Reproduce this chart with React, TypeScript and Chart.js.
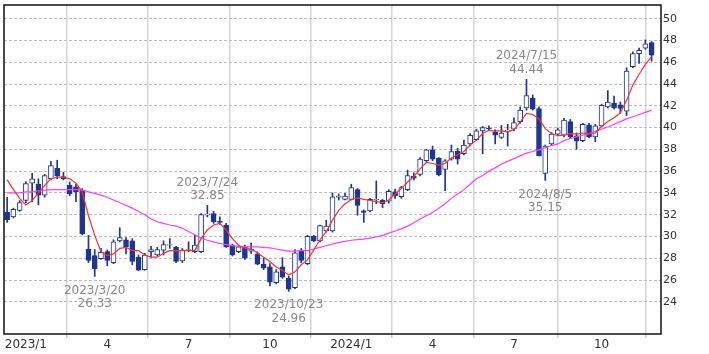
import React, { useEffect, useRef } from 'react';
import { Chart, registerables } from 'chart.js';

Chart.register(...registerables);

// Weekly candles, index 0 = week of 2022/12/12
const OPEN = [
  32.25, 31.8, 32.4, 33.3, 34.9, 34.8, 33.8, 35.3, 36.25, 35.5,
  34.7, 34.55, 34.25, 28.85, 28.25, 27.95, 28.6, 27.6, 29.6, 29.7,
  29.6, 28.1, 26.95, 28.6, 28.3, 28.75, 29.2, 29.0, 27.75, 28.7,
  28.6, 28.6, 31.95, 32.1, 31.4, 31.05, 29.2, 28.6, 29.05, 28.65,
  28.4, 27.45, 27.2, 25.75, 27.2, 26.15, 25.3, 28.7, 27.5, 30.0,
  29.6, 30.5, 30.5, 33.6, 33.4, 33.4, 34.3, 32.35, 32.35, 33.35,
  33.35, 33.25, 34.1, 33.65, 34.3, 35.55, 35.7, 36.95, 37.95, 37.2,
  36.15, 37.1, 37.85, 37.6, 38.5, 38.9, 39.7, 39.95, 39.6, 39.1,
  39.7, 39.85, 40.55, 41.8, 42.7, 41.75, 35.8, 38.5, 39.4, 39.3,
  40.55, 39.25, 38.8, 40.25, 39.15, 40.15, 41.9, 42.25, 42.1, 41.5,
  45.6, 46.8, 47.3, 47.8,
];
const HIGH = [
  33.6, 32.6, 33.3, 35.05, 35.8, 35.3, 35.7, 36.9, 37.0, 35.9,
  35.0, 34.8, 34.4, 30.1, 28.8, 28.9, 28.75, 29.7, 30.8, 29.9,
  29.8, 28.3, 28.45, 29.1, 29.0, 29.6, 29.8, 29.1, 28.9, 29.5,
  30.1, 32.1, 32.85, 32.3, 31.8, 31.2, 29.3, 29.15, 29.2, 29.4,
  28.6, 28.0, 27.5, 26.95, 28.05, 26.35, 28.8, 28.9, 30.1, 30.1,
  31.05, 31.5, 34.0, 33.9, 33.95, 34.8, 34.4, 32.45, 33.5, 35.1,
  33.4, 34.3, 34.35, 34.6, 36.1, 35.85, 37.25, 38.0, 38.3, 37.25,
  37.05, 38.4, 38.1, 38.85, 39.45, 39.85, 40.1, 40.15, 39.8, 40.2,
  40.3, 40.9, 41.9, 44.44, 43.0, 41.9, 38.4, 39.55, 39.95, 40.85,
  40.75, 39.5, 40.4, 40.4, 40.3, 42.15, 43.4, 42.9, 42.35, 45.5,
  46.95, 47.3, 48.05, 47.9,
];
const LOW = [
  31.3, 31.7, 32.3, 33.1, 33.2, 32.9, 33.6, 35.2, 35.3, 35.2,
  33.75, 33.2, 30.15, 27.6, 26.33, 27.9, 27.3, 27.5, 29.5, 28.4,
  27.4, 26.85, 26.9, 28.1, 28.2, 28.3, 28.9, 27.6, 27.6, 28.6,
  28.5, 28.5, 31.8, 31.2, 31.1, 29.0, 28.2, 28.5, 27.9, 28.45,
  27.4, 26.95, 25.45, 25.65, 26.15, 24.96, 25.2, 27.6, 27.4, 29.5,
  29.5, 30.4, 30.4, 33.35, 33.35, 33.35, 31.95, 31.3, 32.25, 33.0,
  32.65, 33.05, 33.5, 33.5, 34.2, 35.2, 35.55, 36.85, 36.95, 35.55,
  34.2, 37.0, 36.65, 37.5, 38.4, 38.8, 37.6, 39.8, 38.5, 39.0,
  38.3, 39.7, 40.4, 41.6, 41.6, 37.4, 35.15, 38.35, 39.25, 39.15,
  39.05, 38.0, 38.7, 39.05, 38.7, 40.05, 41.8, 41.7, 41.3, 41.1,
  45.5, 45.9, 47.2, 46.1,
];
const CLOSE = [
  31.55, 32.5, 33.1, 34.85, 35.3, 33.8, 35.6, 36.5, 35.55, 35.3,
  33.9, 34.1, 30.25, 27.8, 27.05, 28.55, 27.8, 29.5, 29.9, 29.05,
  27.7, 26.9, 28.3, 28.8, 28.8, 29.25, 29.25, 27.7, 28.75, 28.8,
  29.2, 32.0, 32.05, 31.35, 31.3, 29.05, 28.3, 29.05, 28.0, 28.85,
  27.45, 27.1, 25.8, 26.75, 26.25, 25.15, 28.5, 27.8, 30.0, 29.6,
  31.0, 30.95, 33.65, 33.7, 33.7, 34.5, 32.85, 32.2, 33.4, 33.4,
  33.0, 34.15, 33.75, 34.5, 35.6, 35.35, 37.1, 37.95, 37.1, 35.65,
  36.95, 37.8, 37.1, 38.4, 39.3, 39.7, 40.0, 39.9, 39.3, 39.5,
  39.75, 40.45, 41.6, 42.95, 41.7, 37.4, 38.3, 39.4, 39.8, 40.7,
  39.15, 38.75, 40.3, 39.15, 40.15, 42.05, 42.35, 41.8, 41.75, 45.2,
  46.8, 47.1, 47.7, 46.65,
];
// short moving average (red)
const MA_SHORT = [
  35.2, 34.3, 33.5, 32.9, 33.3, 34.0, 34.7, 35.3, 35.45, 35.45,
  35.3, 34.9, 34.1, 31.9, 30.1, 28.6, 28.25, 28.4, 28.9, 29.0,
  28.7, 28.7, 28.3, 28.1, 28.1, 28.45, 28.7, 28.7, 28.7, 28.7,
  28.7, 29.8, 30.6, 31.05, 31.2, 30.6, 29.8, 29.2, 28.9, 28.85,
  28.5, 28.1, 27.7, 27.2, 26.9, 26.45, 26.75, 27.4, 27.85, 28.75,
  29.7, 30.45, 31.5, 32.4, 33.0, 33.4, 33.55, 33.4, 33.3, 33.2,
  33.1, 33.35, 33.9, 34.4, 35.0, 35.5, 36.2, 36.8, 36.7, 36.55,
  36.7, 37.2, 37.5, 37.8, 38.4, 38.85, 39.45, 39.75, 39.7, 39.7,
  39.6, 39.8, 40.5, 41.3, 41.2, 40.8, 39.9, 39.45, 39.25, 39.3,
  39.45, 39.4, 39.5, 39.45, 39.5, 40.1, 40.55, 40.9, 41.35, 42.5,
  43.9, 44.9, 45.8, 46.5,
];
// long moving average (magenta)
const MA_LONG = [
  34.0, 34.0, 34.0, 34.1, 34.1, 34.2, 34.25, 34.3, 34.3, 34.3,
  34.3, 34.3, 34.25, 34.1, 33.95, 33.8, 33.6, 33.35, 33.1, 32.85,
  32.6, 32.3, 32.0, 31.6, 31.35, 31.2, 31.05, 30.95, 30.75, 30.45,
  30.15, 29.85, 29.65, 29.5, 29.35, 29.25, 29.15, 29.1, 29.05, 29.05,
  29.05, 29.0, 28.95, 28.85, 28.75, 28.65, 28.65, 28.7, 28.7, 28.85,
  29.0, 29.15, 29.3, 29.45, 29.55, 29.65, 29.7, 29.75, 29.85, 29.95,
  30.1, 30.3, 30.5, 30.7, 30.95, 31.25, 31.6, 31.9, 32.2, 32.6,
  33.0, 33.5, 33.9, 34.3, 34.8, 35.3, 35.6, 36.0, 36.3, 36.65,
  36.9, 37.15, 37.4, 37.65, 37.8, 37.95, 38.15, 38.35, 38.5, 38.8,
  39.0, 39.15, 39.3, 39.45, 39.65, 39.85, 40.05, 40.3, 40.55, 40.8,
  41.0, 41.2, 41.4, 41.6,
];

const X_TICK_INDEX = [3, 16, 29, 42, 55, 68, 81, 95];
const X_TICK_LABELS = ['2023/1', '4', '7', '10', '2024/1', '4', '7', '10'];
const Y_TICKS = [24, 26, 28, 30, 32, 34, 36, 38, 40, 42, 44, 46, 48, 50];

const MARK_INDEX = [14, 32, 45, 83, 86];
const MARK_DATE = ['2023/3/20', '2023/7/24', '2023/10/23', '2024/7/15', '2024/8/5'];
const MARK_VALUE = [26.33, 32.85, 24.96, 44.44, 35.15];
const MARK_KIND = ['low', 'high', 'low', 'high', 'low'];

const NAVY = '#1f3590';
const FONT = '"DejaVu Sans", sans-serif';

const framePlugin = {
  id: 'frame',
  afterDraw(chart: any) {
    const { ctx, chartArea: a } = chart;
    ctx.save();
    ctx.strokeStyle = '#111';
    ctx.lineWidth = 1.5;
    ctx.strokeRect(a.left, a.top, a.right - a.left, a.bottom - a.top);
    ctx.restore();
  },
};

const markPlugin = {
  id: 'marks',
  afterDatasetsDraw(chart: any) {
    const { ctx } = chart;
    const xs = chart.scales.x;
    const ys = chart.scales.y;
    ctx.save();
    ctx.font = '12px ' + FONT;
    ctx.fillStyle = '#888888';
    ctx.textAlign = 'center';
    ctx.textBaseline = 'middle';
    MARK_INDEX.forEach((idx, k) => {
      const x = xs.getPixelForValue(idx);
      const y = ys.getPixelForValue(MARK_VALUE[k]);
      const val = MARK_VALUE[k].toFixed(2);
      if (MARK_KIND[k] === 'high') {
        ctx.fillText(MARK_DATE[k], x, y - 23);
        ctx.fillText(val, x, y - 9.5);
      } else {
        ctx.fillText(MARK_DATE[k], x, y + 14);
        ctx.fillText(val, x, y + 27.5);
      }
    });
    ctx.restore();
  },
};

export default function App() {
  const ref = useRef<HTMLCanvasElement | null>(null);

  useEffect(() => {
    if (!ref.current) return;
    const wicks = HIGH.map((h, i) => ({ x: i, y: [LOW[i], h] }));
    const bodies = OPEN.map((o, i) => ({
      x: i,
      y: [Math.min(o, CLOSE[i]), Math.max(o, CLOSE[i])],
    }));
    const bodyFill = OPEN.map((o, i) => (CLOSE[i] >= o ? '#ffffff' : NAVY));

    const chart = new Chart(ref.current, {
      type: 'bar',
      data: {
        datasets: [
          {
            type: 'line',
            data: MA_SHORT.map((v, i) => ({ x: i, y: v })),
            borderColor: '#ff3030',
            borderWidth: 1.2,
            pointRadius: 0,
            tension: 0,
            order: 0,
          } as any,
          {
            type: 'line',
            data: MA_LONG.map((v, i) => ({ x: i, y: v })),
            borderColor: '#ff40ff',
            borderWidth: 1.2,
            pointRadius: 0,
            tension: 0,
            order: 1,
          } as any,
          {
            type: 'bar',
            data: bodies,
            backgroundColor: bodyFill,
            borderColor: NAVY,
            borderWidth: 1,
            borderSkipped: false,
            barThickness: 5,
            grouped: false,
            order: 2,
          } as any,
          {
            type: 'bar',
            data: wicks,
            backgroundColor: NAVY,
            borderWidth: 0,
            barThickness: 1,
            grouped: false,
            order: 3,
          } as any,
        ],
      },
      options: {
        responsive: false,
        animation: false,
        devicePixelRatio: 1,
        layout: { padding: { left: 4, top: 5, right: 0, bottom: 0 } },
        plugins: { legend: { display: false }, tooltip: { enabled: false } },
        scales: {
          x: {
            type: 'linear',
            min: -0.5,
            max: 104.5,
            offset: false,
            afterBuildTicks: (s: any) => {
              s.ticks = X_TICK_INDEX.map((v) => ({ value: v }));
            },
            afterFit: (s: any) => {
              s.height = 20;
              s.paddingLeft = 0;
              s.paddingRight = 0;
              s.paddingTop = 0;
              s.paddingBottom = 0;
            },
            ticks: {
              autoSkip: false,
              maxRotation: 0,
              padding: 0,
              color: '#333',
              font: { size: 12, family: FONT },
              callback: (v: any) => {
                const k = X_TICK_INDEX.indexOf(Number(v));
                return k >= 0 ? X_TICK_LABELS[k] : '';
              },
            },
            grid: {
              color: '#d6d6d6',
              lineWidth: 1.5,
              drawTicks: true,
              tickLength: 4,
              tickColor: '#c8c8c8',
            },
            border: { display: false },
          },
          y: {
            type: 'linear',
            position: 'right',
            min: 21.04,
            max: 51.26,
            afterBuildTicks: (s: any) => {
              s.ticks = Y_TICKS.map((v) => ({ value: v }));
            },
            afterFit: (s: any) => {
              s.width = 48;
              s.paddingTop = 0;
              s.paddingBottom = 0;
              s.paddingLeft = 0;
              s.paddingRight = 0;
            },
            ticks: {
              padding: 2,
              color: '#333',
              font: { size: 11, family: FONT },
            },
            grid: {
              color: '#bdbdbd',
              lineWidth: 1,
              drawTicks: false,
            },
            border: { display: false, dash: [3, 2] },
          },
        },
      } as any,
      plugins: [markPlugin, framePlugin],
    });
    return () => chart.destroy();
  }, []);

  return (
    <div style={{ position: 'fixed', left: 0, top: 0, width: 709, height: 354, background: '#fff' }}>
      <canvas ref={ref} width={709} height={354} style={{ display: 'block' }} />
    </div>
  );
}
